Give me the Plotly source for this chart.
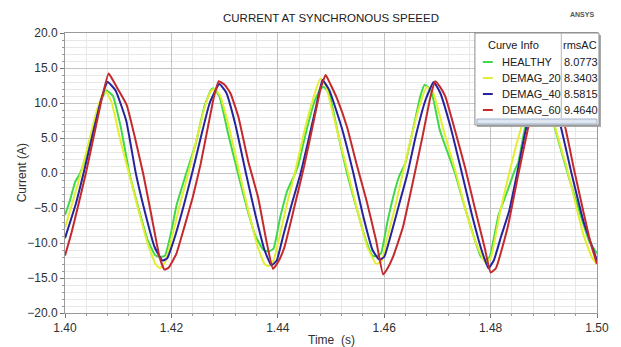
import plotly.graph_objects as go

# ---------------- data ----------------
t_healthy = [1.4000, 1.4009, 1.4019, 1.4028, 1.4037, 1.4050, 1.4065, 1.4078, 1.4090, 1.4105,
             1.4121, 1.4138, 1.4155, 1.4170, 1.4180, 1.4188, 1.4198, 1.4210, 1.4220, 1.4228,
             1.4245, 1.4262, 1.4274, 1.4278, 1.4290, 1.4307, 1.4325, 1.4342, 1.4358, 1.4373,
             1.4383, 1.4392, 1.4404, 1.4418, 1.4430, 1.4438, 1.4452, 1.4468, 1.4480, 1.4486,
             1.4496, 1.4512, 1.4530, 1.4548, 1.4565, 1.4578, 1.4586, 1.4594, 1.4606, 1.4620,
             1.4628, 1.4640, 1.4655, 1.4668, 1.4676, 1.4688, 1.4705, 1.4733, 1.4750, 1.4768,
             1.4782, 1.4790, 1.4798, 1.4815, 1.4832, 1.4845, 1.4852, 1.4865, 1.4877, 1.4887,
             1.4900, 1.4920, 1.4947, 1.4965, 1.4985, 1.5000]
v_healthy = [-6.0, -4.0, -1.3, -0.1, 1.8, 5.6, 10.0, 11.8, 11.0, 6.5,
             0.0, -5.0, -9.5, -11.8, -12.0, -11.8, -9.0, -4.5, -2.0, 0.0,
             4.0, 9.5, 11.8, 12.1, 11.0, 5.5, 0.0, -5.0, -9.0, -11.0,
             -11.2, -10.8, -6.5, -2.5, -0.5, 1.0, 5.5, 10.0, 12.0, 12.3,
             11.5, 6.0, 0.0, -5.0, -9.5, -11.8, -11.9, -11.5, -7.0, -2.5,
             -0.5, 1.5, 6.5, 11.0, 12.6, 11.8, 6.0, 0.0, -4.5, -9.0,
             -12.0, -12.4, -12.0, -6.0, -2.5, 0.3, 1.5, 6.6, 10.0, 12.3,
             11.5, 6.6, -0.6, -5.0, -9.7, -11.5]

t_demag20 = [1.4000, 1.4015, 1.4030, 1.4045, 1.4060, 1.4072, 1.4077, 1.4088, 1.4103, 1.4120,
             1.4137, 1.4155, 1.4170, 1.4178, 1.4188, 1.4200, 1.4216, 1.4232, 1.4248, 1.4263,
             1.4275, 1.4282, 1.4292, 1.4310, 1.4328, 1.4345, 1.4362, 1.4375, 1.4383, 1.4392,
             1.4402, 1.4417, 1.4432, 1.4450, 1.4466, 1.4480, 1.4490, 1.4510, 1.4532, 1.4550,
             1.4568, 1.4585, 1.4595, 1.4605, 1.4620, 1.4635, 1.4652, 1.4668, 1.4680, 1.4692,
             1.4712, 1.4735, 1.4752, 1.4770, 1.4790, 1.4800, 1.4818, 1.4835, 1.4850, 1.4866,
             1.4880, 1.4892, 1.4908, 1.4921, 1.4943, 1.4974, 1.4990, 1.5000]
v_demag20 = [-7.8, -4.0, 0.0, 4.5, 9.0, 11.4, 11.6, 10.0, 5.0, 0.0,
             -5.0, -10.0, -13.0, -13.6, -12.8, -9.5, -4.5, 0.0, 5.0, 9.5,
             11.8, 12.0, 11.0, 6.0, 0.0, -5.5, -10.5, -13.0, -13.3, -12.5,
             -9.5, -4.5, 0.0, 6.0, 10.5, 13.5, 12.5, 6.5, 0.0, -5.5,
             -10.5, -13.0, -12.6, -9.5, -5.0, 0.0, 5.5, 10.0, 12.3, 11.5,
             6.0, 0.0, -5.0, -9.5, -12.8, -12.2, -5.5, 0.0, 4.5, 8.5,
             11.5, 12.5, 11.0, 6.6, 0.8, -8.7, -12.0, -13.0]

t_demag40 = [1.4000, 1.4020, 1.4035, 1.4052, 1.4068, 1.4080, 1.4095, 1.4115, 1.4133, 1.4150,
             1.4168, 1.4183, 1.4192, 1.4205, 1.4222, 1.4239, 1.4255, 1.4272, 1.4290, 1.4303,
             1.4320, 1.4340, 1.4358, 1.4375, 1.4388, 1.4398, 1.4410, 1.4426, 1.4443, 1.4460,
             1.4475, 1.4484, 1.4497, 1.4520, 1.4542, 1.4560, 1.4578, 1.4591, 1.4600, 1.4612,
             1.4628, 1.4644, 1.4660, 1.4678, 1.4693, 1.4705, 1.4725, 1.4746, 1.4765, 1.4783,
             1.4796, 1.4806, 1.4820, 1.4835, 1.4850, 1.4866, 1.4884, 1.4896, 1.4915, 1.4932,
             1.4952, 1.4975, 1.5000]
v_demag40 = [-9.3, -4.5, 0.0, 5.5, 10.5, 13.0, 11.8, 7.5, 0.0, -5.5,
             -10.5, -12.5, -12.2, -9.5, -5.0, 0.0, 5.0, 10.0, 12.7, 11.5,
             7.0, 0.0, -6.0, -11.0, -13.2, -12.5, -9.0, -4.5, 0.0, 5.5,
             10.5, 13.3, 11.8, 6.5, 0.0, -6.0, -11.0, -12.4, -12.0, -9.0,
             -4.5, 0.0, 5.5, 10.5, 13.0, 11.5, 6.5, 0.0, -6.0, -11.0,
             -13.6, -12.5, -9.0, -5.4, 0.0, 6.1, 11.0, 12.9, 11.0, 6.6,
             0.0, -7.0, -12.5]

t_demag60 = [1.4000, 1.4012, 1.4024, 1.4039, 1.4054, 1.4070, 1.4082, 1.4092, 1.4100, 1.4116,
             1.4131, 1.4147, 1.4162, 1.4178, 1.4187, 1.4195, 1.4209, 1.4224, 1.4240, 1.4255,
             1.4270, 1.4280, 1.4289, 1.4300, 1.4311, 1.4326, 1.4344, 1.4363, 1.4378, 1.4391,
             1.4400, 1.4412, 1.4431, 1.4449, 1.4468, 1.4480, 1.4490, 1.4500, 1.4511, 1.4530,
             1.4548, 1.4567, 1.4585, 1.4598, 1.4605, 1.4616, 1.4635, 1.4653, 1.4672, 1.4687,
             1.4696, 1.4705, 1.4715, 1.4733, 1.4752, 1.4770, 1.4789, 1.4800, 1.4810, 1.4832,
             1.4851, 1.4871, 1.4890, 1.4903, 1.4920, 1.4940, 1.4956, 1.4974, 1.4988, 1.5000]
v_demag60 = [-11.8, -8.6, -4.9, -0.1, 5.2, 10.9, 14.2, 13.0, 11.9, 9.7,
             5.2, -0.1, -5.9, -12.1, -13.8, -13.5, -11.6, -7.8, -3.5, 1.3,
             7.1, 10.9, 13.1, 12.6, 11.4, 8.0, 1.8, -3.5, -9.5, -13.7,
             -12.8, -10.7, -4.9, 0.8, 7.6, 11.9, 14.0, 12.5, 10.7, 6.6,
             1.3, -4.0, -9.7, -14.5, -13.8, -12.1, -7.8, -1.6, 5.2, 10.9,
             13.1, 12.3, 10.9, 6.1, 0.8, -4.9, -10.7, -14.2, -13.6, -7.8,
             -0.6, 6.6, 12.5, 13.5, 11.0, 6.6, 0.8, -5.4, -10.0, -13.0]

curve_names = ["HEALTHY", "DEMAG_20", "DEMAG_40", "DEMAG_60"]
rms_values = ["8.0773", "8.3403", "8.5815", "9.4640"]
curve_colors = ["#3fd84a", "#e4ee30", "#26249c", "#c42a2c"]

x_tick_vals = [1.40, 1.42, 1.44, 1.46, 1.48, 1.50]
y_tick_vals = [-20, -15, -10, -5, 0, 5, 10, 15, 20]

series_t = [t_healthy, t_demag20, t_demag40, t_demag60]
series_v = [v_healthy, v_demag20, v_demag40, v_demag60]

# ---------------- figure ----------------
W, H = 621, 347
L, R, T, B = 65, 20, 33, 34
PW, PH = W - L - R, H - T - B

def px(xp):
    return (xp - L) / PW

def py(yp):
    return (H - B - yp) / PH

fig = go.Figure()
for t, v, name, col in zip(series_t, series_v, curve_names, curve_colors):
    fig.add_trace(go.Scatter(x=t, y=v, mode="lines", name=name,
                             line=dict(color=col, width=2, shape="spline", smoothing=0.4),
                             showlegend=False, hoverinfo="skip"))

font_fam = "Liberation Sans, Arial, sans-serif"
fig.update_layout(
    width=W, height=H,
    margin=dict(l=L, r=R, t=T, b=B),
    paper_bgcolor="white", plot_bgcolor="white",
    font=dict(family=font_fam, size=12, color="#303030"),
)
fig.update_xaxes(range=[1.40, 1.50], tickvals=x_tick_vals, tickformat=".2f",
                 showgrid=True, gridcolor="#c4c4c4", gridwidth=1,
                 showline=True, linecolor="#9a9a9a", linewidth=1, mirror=True,
                 ticks="outside", ticklen=4, tickcolor="#777",
                 minor=dict(dtick=0.004, showgrid=True, gridcolor="#e8e8e8",
                            ticks="outside", ticklen=2, tickcolor="#999"),
                 zeroline=False, tickfont=dict(size=12, color="#303030"))
fig.update_yaxes(range=[-20, 20], tickvals=y_tick_vals, tickformat=".1f",
                 showgrid=True, gridcolor="#c4c4c4", gridwidth=1,
                 showline=True, linecolor="#9a9a9a", linewidth=1, mirror=True,
                 ticks="outside", ticklen=4, tickcolor="#777",
                 minor=dict(dtick=1, showgrid=True, gridcolor="#e8e8e8",
                            ticks="outside", ticklen=2, tickcolor="#999"),
                 zeroline=False, tickfont=dict(size=12, color="#303030"))

shapes = []
annos = []

def note(text, x, y, size=11, color="#202020", xanchor="center", angle=0):
    annos.append(dict(text=text, x=px(x), y=py(y), xref="paper", yref="paper",
                      xanchor=xanchor, yanchor="middle", showarrow=False,
                      textangle=angle, font=dict(size=size, color=color)))

# title, axis titles, logo text
note("CURRENT AT SYNCHRONOUS SPEEED", 333, 18, size=11.5)
note("<b>ANSYS</b>", 600, 14, size=7, color="#555", xanchor="right")
note("Current (A)", 22, 173, size=12, color="#303030", angle=-90)
note("Time  (s)", 333, 340, size=12, color="#303030")

# legend box
bx0, bx1, by0, by1 = 478, 603, 33, 125
shapes.append(dict(type="rect", xref="paper", yref="paper", x0=px(bx0 + 2), x1=px(bx1 + 2),
                   y0=py(by1 + 2), y1=py(by0 + 2), fillcolor="#a8a8a8", line=dict(width=0),
                   layer="above"))
shapes.append(dict(type="rect", xref="paper", yref="paper", x0=px(bx0), x1=px(bx1),
                   y0=py(by1), y1=py(by0), fillcolor="white",
                   line=dict(color="#8c8c8c", width=1), layer="above"))
shapes.append(dict(type="line", xref="paper", yref="paper", x0=px(565), x1=px(565),
                   y0=py(118), y1=py(by0), line=dict(color="#b5b5b5", width=1), layer="above"))
shapes.append(dict(type="rect", xref="paper", yref="paper", x0=px(480), x1=px(601),
                   y0=py(124), y1=py(119), fillcolor="#dde6f1",
                   line=dict(color="#9fb1c8", width=1), layer="above"))
note("Curve Info", 517, 45)
note("rmsAC", 584, 45)
row_y = [62, 78, 94, 110]
for ry, name, val, col in zip(row_y, curve_names, rms_values, curve_colors):
    shapes.append(dict(type="line", xref="paper", yref="paper", x0=px(486), x1=px(496),
                       y0=py(ry), y1=py(ry), line=dict(color=col, width=2), layer="above"))
    note(name, 503, ry, xanchor="left")
    note(val, 566, ry, xanchor="left")

fig.update_layout(shapes=shapes, annotations=annos)
fig.write_html("out.html")
